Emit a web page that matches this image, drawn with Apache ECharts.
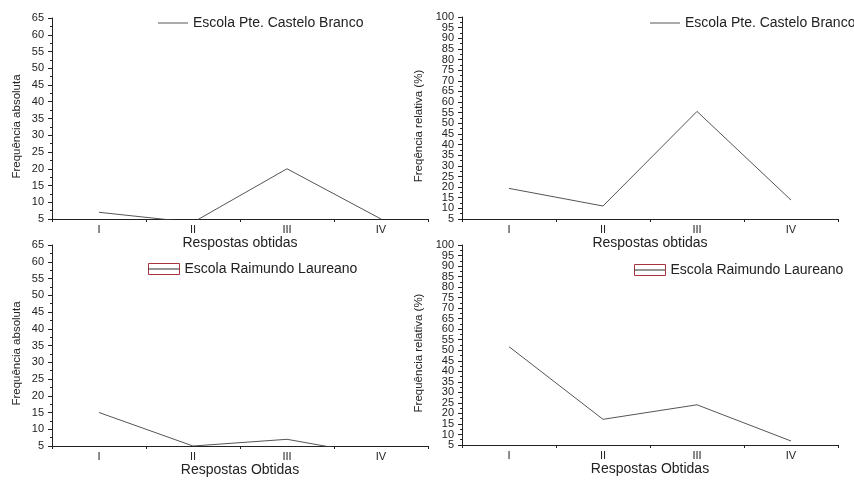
<!DOCTYPE html>
<html>
<head>
<meta charset="utf-8">
<title>Respostas obtidas</title>
<script src="https://cdn.jsdelivr.net/npm/echarts@6/dist/echarts.min.js"></script>
<style>
    html, body { margin: 0; padding: 0; background: #fff; }
    #chart { width: 854px; height: 480px; }
</style>
</head>
<body>
<div id="chart"></div>
<script>
'use strict';

// categorias das respostas
var categories = ['I', 'II', 'III', 'IV'];

// Escola Pte. Castelo Branco
var casteloAbs = [7, 4, 20, 5];
var casteloRel = [19.4, 11.1, 55.6, 13.9];

// Escola Raimundo Laureano
var raimundoAbs = [15, 5, 7, 2];
var raimundoRel = [51.7, 17.2, 24.1, 6.9];

var casteloName = 'Escola Pte. Castelo Branco';
var raimundoName = 'Escola Raimundo Laureano';

var absMin = 5, absMax = 65;
var relMin = 5, relMax = 100;
var tickStep = 5;

var font = '"Liberation Sans", Arial, sans-serif';
var inkColor = '#222';
var lineColor = '#555';

var grids = [
    { left: 52, width: 376, top: 18, height: 201 },
    { left: 462, width: 376, top: 17, height: 202 },
    { left: 52, width: 376, top: 245, height: 201 },
    { left: 462, width: 376, top: 245, height: 200 }
];

function buildXAxis(gridIndex, name) {
    return {
        type: 'category',
        gridIndex: gridIndex,
        data: categories,
        boundaryGap: true,
        name: name,
        nameLocation: 'middle',
        nameGap: 16,
        nameTextStyle: { fontFamily: font, fontSize: 14, color: inkColor },
        axisLine: { lineStyle: { color: inkColor, width: 1 } },
        axisTick: { show: true, length: 3, lineStyle: { color: inkColor } },
        axisLabel: { fontFamily: font, fontSize: 11, color: inkColor, margin: 5 },
        splitLine: { show: false }
    };
}

function buildYAxis(gridIndex, name, min, max, gap, onlyEnds) {
    var axis = {
        type: 'value',
        gridIndex: gridIndex,
        position: 'left',
        min: min,
        max: max,
        interval: tickStep,
        name: name,
        nameLocation: 'middle',
        nameGap: gap,
        nameTextStyle: { fontFamily: font, fontSize: 11.5, color: inkColor, padding: [0, 16, 0, 0] },
        axisLine: { show: true, lineStyle: { color: inkColor, width: 1 } },
        axisTick: { show: true, length: 4, lineStyle: { color: inkColor } },
        minorTick: { show: true, splitNumber: 2, length: 2, lineStyle: { color: inkColor } },
        axisLabel: {
            fontFamily: font, fontSize: 11, color: inkColor, margin: 8,
            showMinLabel: true, showMaxLabel: true
        },
        splitLine: { show: false }
    };
    if (onlyEnds) {
        // só 5 e 100 aqui, o resto vem do eixo de apoio
        axis.axisLabel.formatter = function (v) {
            return (v === min || v === max) ? String(v) : '';
        };
    }
    return axis;
}

// eixo de apoio: mostra os rótulos do meio que o eixo principal esconde
function buildLabelAxis(gridIndex, min, max) {
    return {
        type: 'value',
        gridIndex: gridIndex,
        position: 'left',
        min: min,
        max: max,
        interval: tickStep,
        axisLine: { show: false },
        axisTick: { show: false },
        axisLabel: {
            fontFamily: font, fontSize: 11, color: inkColor, margin: 8,
            showMinLabel: false, showMaxLabel: false
        },
        splitLine: { show: false }
    };
}

function buildSeries(name, data, index) {
    return {
        type: 'line',
        name: name,
        data: data,
        xAxisIndex: index,
        yAxisIndex: index,
        symbol: 'none',
        clip: true,
        lineStyle: { color: lineColor, width: 1 },
        itemStyle: { color: lineColor }
    };
}

var lineIcon = 'path://M0,0H30V1H0Z';

function buildLineLegend(name, left, top) {
    return {
        data: [name],
        left: left,
        top: top,
        icon: lineIcon,
        itemWidth: 30,
        itemHeight: 12,
        itemGap: 5,
        selectedMode: false,
        padding: 0,
        textStyle: { fontFamily: font, fontSize: 14, color: inkColor },
        itemStyle: { color: lineColor }
    };
}

// legenda com caixa vermelha + linha por cima
function buildBoxLegend(name, left, top) {
    return [{
        data: [name],
        left: left,
        top: top,
        icon: 'rect',
        itemWidth: 31,
        itemHeight: 11,
        selectedMode: false,
        padding: 0,
        textStyle: { fontFamily: font, fontSize: 14, color: inkColor },
        itemStyle: { color: '#fff', borderColor: '#a8323e', borderWidth: 1 }
    }, {
        data: [name],
        left: left,
        top: top,
        z: 6,
        icon: lineIcon,
        itemWidth: 31,
        itemHeight: 11,
        selectedMode: false,
        padding: 0,
        textStyle: { fontFamily: font, fontSize: 14, color: 'rgba(0,0,0,0)' },
        itemStyle: { color: '#333' }
    }];
}

var legends = [
    buildLineLegend(casteloName, 158, 16),
    buildLineLegend(casteloName, 650, 16)
].concat(buildBoxLegend(raimundoName, 148, 262)).concat(buildBoxLegend(raimundoName, 634, 263));

var option = {
    animation: false,
    backgroundColor: '#fff',
    textStyle: { fontFamily: font },
    grid: grids,
    legend: legends,
    xAxis: [
        buildXAxis(0, 'Respostas obtidas'),
        buildXAxis(1, 'Respostas obtidas'),
        buildXAxis(2, 'Respostas Obtidas'),
        buildXAxis(3, 'Respostas Obtidas')
    ],
    yAxis: [
        buildYAxis(0, 'Frequência absoluta', absMin, absMax, 29, false),
        buildYAxis(1, 'Freqência relativa (%)', relMin, relMax, 37, true),
        buildYAxis(2, 'Frequência absoluta', absMin, absMax, 29, false),
        buildYAxis(3, 'Frequência relativa (%)', relMin, relMax, 37, true),
        buildLabelAxis(1, relMin, relMax),
        buildLabelAxis(3, relMin, relMax)
    ],
    series: [
        buildSeries(casteloName, casteloAbs, 0),
        buildSeries(casteloName, casteloRel, 1),
        buildSeries(raimundoName, raimundoAbs, 2),
        buildSeries(raimundoName, raimundoRel, 3)
    ]
};

var myChart = echarts.init(document.getElementById('chart'));
myChart.setOption(option);
</script>
</body>
</html>
